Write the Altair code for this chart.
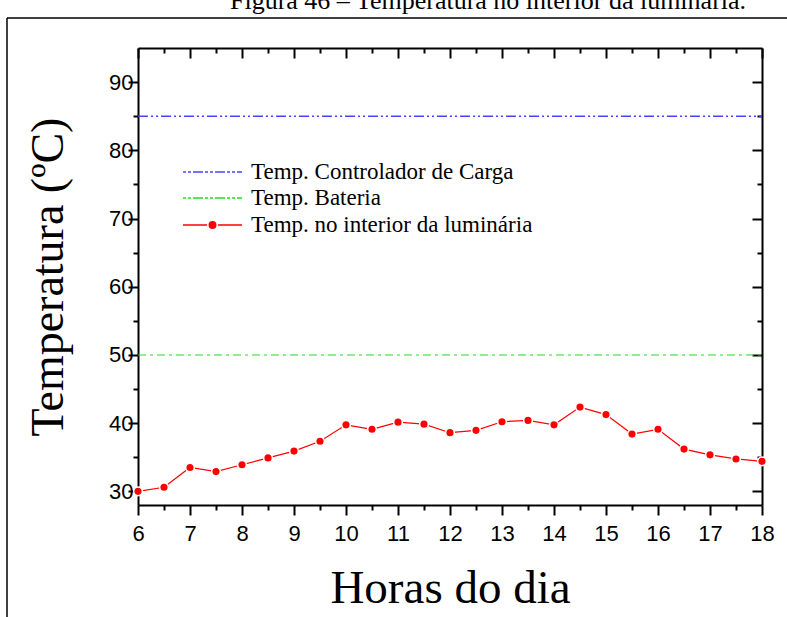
import altair as alt
import pandas as pd

# ---- data ----
hours = [6, 6.5, 7, 7.5, 8, 8.5, 9, 9.5, 10, 10.5, 11, 11.5, 12,
         12.5, 13, 13.5, 14, 14.5, 15, 15.5, 16, 16.5, 17, 17.5, 18]
temp_luminaria = [30.0, 30.6, 33.5, 32.9, 33.9, 34.9, 35.9, 37.35, 39.75, 39.1,
                  40.15, 39.85, 38.6, 38.95, 40.2, 40.4, 39.75, 42.35, 41.25,
                  38.4, 39.1, 36.2, 35.35, 34.75, 34.4]
temp_controlador = [85]
temp_bateria = [50]
x_span = [6, 18]
y_domain = [28, 95]
x_ticks = [6 + 0.5 * i for i in range(25)]
y_ticks = [30, 35, 40, 45, 50, 55, 60, 65, 70, 75, 80, 85, 90]
legend_labels = ["Temp. Controlador de Carga", "Temp. Bateria",
                 "Temp. no interior da luminária"]
title_text = "Figura 46 – Temperatura no interior da luminária."
x_title = "Horas do dia"
y_title = "Temperatura (ºC)"

W, H = 624, 457
RED = "#ff0000"
BLUE = "#4545ff"
GREEN = "#22dd22"
SERIF = "Liberation Serif"
SANS = "Liberation Sans"

df = pd.DataFrame({"h": hours, "t": temp_luminaria})
df_ctrl = pd.DataFrame({"y": temp_controlador, "x0": [x_span[0]], "x1": [x_span[1]]})
df_bat = pd.DataFrame({"y": temp_bateria, "x0": [x_span[0]], "x1": [x_span[1]]})
dummy = pd.DataFrame({"a": [0]})

xs = alt.Scale(domain=x_span, nice=False, zero=False)
ys = alt.Scale(domain=y_domain, nice=False, zero=False)

major_x = "datum.value % 1 === 0"
major_y = "datum.value % 10 === 0"

common_axis = dict(domainColor="black", domainWidth=2, tickColor="black",
                   tickWidth=2, grid=False, labelColor="black",
                   titleColor="black", titleFontWeight="normal")

bottom_axis = alt.Axis(
    values=x_ticks,
    labelExpr="datum.value % 1 === 0 ? format(datum.value, 'd') : ''",
    tickSize={"condition": {"test": major_x, "value": 10}, "value": 5},
    labelFont=SANS, labelFontSize=22, labelPadding=8,
    title=x_title, titleFont=SERIF, titleFontSize=47, titlePadding=21,
    labelFlush=False, labelOverlap=False,
    **common_axis,
)
left_axis = alt.Axis(
    values=y_ticks,
    labelExpr="datum.value % 10 === 0 ? format(datum.value, 'd') : ''",
    tickSize={"condition": {"test": major_y, "value": 10}, "value": 5},
    labelFont=SANS, labelFontSize=22, labelPadding=-5,
    title=y_title, titleFont=SERIF, titleFontSize=46, titlePadding=36,
    labelFlush=False, labelOverlap=False,
    **common_axis,
)
top_axis = alt.Axis(
    orient="top", values=x_ticks, labels=False, title=None,
    tickSize={"condition": {"test": major_x, "value": -10}, "value": -5},
    **common_axis,
)
right_axis = alt.Axis(
    orient="right", values=y_ticks, labels=False, title=None,
    tickSize={"condition": {"test": major_y, "value": -10}, "value": -5},
    **common_axis,
)

ctrl_line = alt.Chart(df_ctrl).mark_rule(
    color=BLUE, strokeWidth=1.5, strokeDash=[10, 3, 2, 3, 2, 3]
).encode(
    x=alt.X("x0:Q", scale=xs, axis=top_axis),
    x2="x1:Q",
    y=alt.Y("y:Q", scale=ys, axis=right_axis),
)
bat_line = alt.Chart(df_bat).mark_rule(
    color=GREEN, strokeWidth=1.1, strokeDash=[8, 4, 3, 4]
).encode(
    x=alt.X("x0:Q", scale=xs, axis=None),
    x2="x1:Q",
    y=alt.Y("y:Q", scale=ys, axis=None),
)

lum_line = alt.Chart(df).mark_line(color=RED, strokeWidth=1.2).encode(
    x=alt.X("h:Q", scale=xs, axis=bottom_axis),
    y=alt.Y("t:Q", scale=ys, axis=left_axis),
)
lum_pts = alt.Chart(df).mark_circle(
    fill=RED, stroke="white", strokeWidth=1.5, opacity=1, size=75
).encode(
    x=alt.X("h:Q", scale=xs, axis=None),
    y=alt.Y("t:Q", scale=ys, axis=None),
)

# ---- legend (drawn by hand, top-left inside the plot) ----
leg_y = [124, 150, 177]
leg_x0, leg_x1, leg_tx = 45, 104, 113
leg_layers = []
leg_styles = [(BLUE, [3, 2, 3, 2, 10, 2]), (GREEN, [3, 2, 3, 2, 10, 2]), (RED, None)]
for i, lab in enumerate(legend_labels):
    color, dash = leg_styles[i]
    kw = dict(color=color, strokeWidth=1.3)
    if dash:
        kw["strokeDash"] = dash
    leg_layers.append(
        alt.Chart(dummy).mark_rule(**kw).encode(
            x=alt.value(leg_x0), x2=alt.value(leg_x1), y=alt.value(leg_y[i])
        )
    )
    leg_layers.append(
        alt.Chart(dummy).mark_text(
            text=lab, font=SERIF, fontSize=23, align="left", baseline="middle",
            color="black"
        ).encode(x=alt.value(leg_tx), y=alt.value(leg_y[i]))
    )
leg_layers.append(
    alt.Chart(dummy).mark_circle(fill=RED, stroke="white", strokeWidth=1.5,
                                 opacity=1, size=90).encode(
        x=alt.value((leg_x0 + leg_x1) / 2), y=alt.value(leg_y[2])
    )
)

# ---- page decorations: clipped caption and outer frame ----
caption = alt.Chart(dummy).mark_text(
    text=title_text, font=SERIF, fontSize=26, align="center",
    baseline="alphabetic", color="black"
).encode(x=alt.value(350), y=alt.value(-39))
frame_top = alt.Chart(dummy).mark_rule(color="black", strokeWidth=1.5).encode(
    x=alt.value(-131), x2=alt.value(660), y=alt.value(-30)
)
frame_left = alt.Chart(dummy).mark_rule(color="black", strokeWidth=1.5).encode(
    x=alt.value(-131), y=alt.value(-30), y2=alt.value(580)
)

chart = alt.layer(
    ctrl_line, bat_line, lum_line, lum_pts, *leg_layers, caption, frame_top, frame_left
).resolve_axis(
    x="independent", y="independent"
).properties(
    width=W, height=H,
    autosize=alt.AutoSizeParams(type="none"),
    padding={"left": 138, "top": 48, "right": 25, "bottom": 112},
    background="white",
).configure_view(stroke="transparent")

chart.save("out.html", embed_options={"renderer": "svg", "actions": False})
